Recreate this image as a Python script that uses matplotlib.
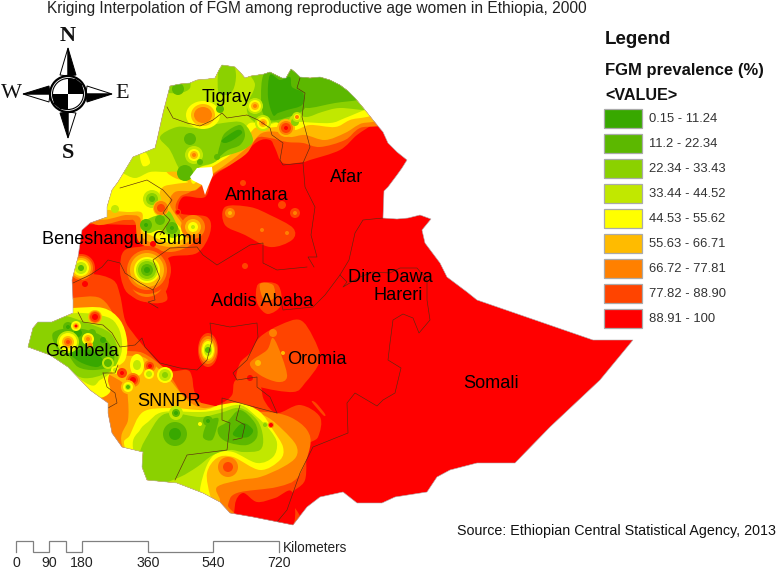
"""Kriging map of FGM prevalence in Ethiopia, 2000 (traced in image pixel coordinates)."""

import matplotlib
matplotlib.use("Agg")
import matplotlib.pyplot as plt
from matplotlib.patches import Circle, Ellipse, PathPatch, Polygon, Rectangle
from matplotlib.path import Path

plt.rcParams["font.family"] = ["Liberation Sans", "DejaVu Sans"]

# ---------------------------------------------------------
# Legend classes
# ---------------------------------------------------------
CLASS_LABELS = ["0.15 - 11.24", "11.2 - 22.34", "22.34 - 33.43", "33.44 - 44.52", "44.53 - 55.62",
                "55.63 - 66.71", "66.72 - 77.81", "77.82 - 88.90", "88.91 - 100"]
CLASS_COLORS = ["#38A800", "#5CB800", "#8BD100", "#C1E800", "#FFFF00",
                "#FFBB00", "#FF8000", "#FF4400", "#FF0000"]
DARK, GREEN, LIGHT, LIME, YELLOW, AMBER, ORANGE, DEEP, RED = range(9)

SCALE_KM = [0, 45, 90, 135, 180, 360, 540, 720]
SCALE_LABELS = [0, 90, 180, 360, 540, 720]

# ---------------------------------------------------------
# Geography
# ---------------------------------------------------------
COUNTRY = [(170, 86), (180, 84), (190, 83), (197, 80), (208, 79), (215, 78), (219, 70), (222, 65), (229, 66), (235, 67),
           (240, 72), (245, 78), (251, 76), (258, 75), (264, 74), (270, 72), (276, 75), (282, 78), (286, 78), (291, 69),
           (296, 73), (300, 77), (310, 78), (320, 77), (330, 80), (340, 85), (348, 91), (355, 98), (365, 110), (373, 120),
           (383, 132), (388, 143), (397, 152), (407, 160), (402, 168), (397, 175), (388, 187), (384, 191), (383, 218),
           (397, 219), (408, 218), (420, 215), (431, 219), (422, 230), (425, 243), (440, 263), (447, 277), (467, 292),
           (477, 300), (593, 340), (633, 340), (600, 380), (550, 427), (515, 463), (477, 463), (450, 470), (437, 477),
           (427, 492), (395, 497), (382, 503), (357, 503), (343, 492), (320, 497), (307, 507), (293, 525), (253, 517),
           (230, 513), (220, 502), (203, 493), (177, 483), (147, 480), (142, 467), (143, 452), (122, 447), (112, 433),
           (108, 413), (108, 403), (90, 390), (68, 367), (50, 355), (28, 347), (33, 328), (38, 322), (52, 322), (73, 313),
           (73, 300), (72, 280), (78, 257), (82, 230), (90, 223), (107, 217), (107, 207), (112, 190), (118, 182),
           (133, 157), (155, 148), (157, 140), (163, 113)]
LAKE_TANA = [(190, 177), (197, 168), (212, 167), (213, 175), (208, 187), (205, 195), (202, 185), (192, 180)]

DEEP_NORTH = [(385, 115), (375, 123), (357, 135), (340, 150), (310, 160), (303, 162), (283, 163), (275, 148), (270, 140),
              (257, 142), (233, 163), (213, 177), (205, 197), (183, 197), (180, 213), (207, 217), (210, 233), (197, 253),
              (170, 257), (163, 270), (163, 283), (167, 300), (150, 303), (130, 295), (123, 285), (120, 268), (125, 250),
              (150, 245), (152, 235), (150, 225), (130, 225), (100, 224), (88, 224), (60, 220), (60, 50), (400, 50)]
DEEP_SW = [(65, 280), (90, 274), (113, 280), (120, 295), (125, 320), (133, 333), (147, 350), (167, 370), (187, 370),
           (192, 377), (195, 393), (207, 408), (222, 403), (232, 395), (236, 380), (258, 380), (264, 400), (277, 413),
           (300, 405), (320, 417), (318, 437), (307, 447), (305, 480), (290, 497), (290, 535), (100, 535), (30, 400),
           (20, 340), (60, 300)]
DEEP_OROMIA = [(260, 337), (280, 325), (300, 320), (313, 337), (320, 360), (305, 383), (293, 392), (260, 387), (253, 380),
               (237, 380), (240, 363), (250, 353)]
DEEP_AMHARA = [(225, 207), (250, 207), (270, 215), (293, 228), (292, 240), (270, 247), (245, 235), (225, 225)]
DEEP_ADDIS = [(260, 283), (278, 285), (281, 305), (268, 314), (258, 305), (256, 292)]
DEEP_STREAK = [(312, 402), (316, 403), (325, 414), (323, 415)]
RED_SOUTH = [(235, 505), (243, 493), (257, 502), (275, 498), (292, 492), (290, 530), (240, 530)]

ORANGE_NORTH = [(390, 118), (360, 128), (345, 140), (320, 147), (303, 143), (287, 142), (270, 138), (257, 138), (247, 153),
                (230, 165), (215, 173), (205, 182), (190, 180), (190, 50), (390, 50)]
ORANGE_WEST = [(95, 150), (165, 165), (205, 180), (190, 192), (180, 197), (176, 210), (190, 230), (193, 243), (170, 252),
               (140, 243), (135, 222), (125, 220), (90, 220)]
ORANGE_SW = [(60, 302), (73, 298), (100, 298), (115, 318), (118, 340), (125, 350), (143, 353), (163, 367), (173, 380),
             (187, 398), (223, 408), (235, 412), (267, 412), (290, 417), (307, 430), (310, 447), (298, 477), (277, 487),
             (237, 493), (228, 505), (228, 522), (100, 520), (20, 400), (20, 340)]
ORANGE_OROMIA = [(273, 338), (282, 357), (287, 377), (278, 382), (260, 375), (250, 363), (267, 350)]
ORANGE_ADDIS = [(260, 284), (273, 285), (274, 298), (264, 300)]

AMBER_NORTH = [(385, 113), (360, 124), (345, 133), (325, 140), (305, 135), (290, 137), (278, 132), (262, 133), (250, 145),
               (232, 160), (215, 172), (205, 178), (190, 178), (190, 50), (385, 50)]
AMBER_WEST = [(100, 150), (165, 165), (190, 178), (205, 178), (195, 190), (175, 192), (170, 205), (183, 225), (190, 240),
              (170, 247), (143, 238), (140, 218), (127, 215), (95, 215)]
AMBER_SW = [(115, 345), (123, 355), (143, 357), (160, 370), (170, 380), (187, 400), (203, 408), (223, 405), (243, 408),
            (267, 417), (283, 430), (296, 445), (296, 457), (283, 467), (260, 477), (240, 480), (217, 487), (220, 500),
            (218, 508), (205, 520), (150, 500), (122, 445), (128, 420), (128, 400), (125, 385), (110, 375), (100, 370),
            (105, 355)]

YELLOW_NORTH = [(380, 108), (350, 120), (335, 127), (310, 125), (295, 130), (280, 127), (265, 128), (255, 128), (245, 140),
                (230, 155), (215, 165), (205, 170), (190, 176), (190, 50), (380, 50)]
YELLOW_WEST = [(105, 145), (155, 148), (165, 170), (175, 178), (188, 182), (175, 184), (163, 187), (160, 197), (170, 217),
               (180, 227), (185, 237), (170, 243), (150, 235), (142, 230), (142, 213), (127, 212), (110, 210), (100, 205)]
YELLOW_SOUTH = [(125, 448), (130, 435), (143, 412), (170, 408), (203, 410), (220, 405), (240, 403), (260, 412), (273, 430),
                (283, 447), (280, 460), (260, 470), (233, 457), (217, 458), (207, 473), (210, 495), (215, 505), (200, 515),
                (150, 500)]
YELLOW_GAMBELA = [(50, 310), (73, 308), (103, 308), (120, 320), (127, 340), (125, 360), (112, 370), (108, 380), (110, 392),
                  (98, 398), (80, 390), (30, 360), (20, 330)]

LIME_NORTH = [(385, 105), (370, 108), (345, 118), (330, 123), (300, 122), (280, 122), (265, 125), (250, 123), (240, 135),
              (225, 150), (213, 163), (198, 168), (190, 178), (177, 172), (165, 172), (150, 172), (135, 178), (120, 172),
              (100, 165), (100, 50), (385, 50)]
LIME_SOUTH = [(133, 448), (140, 430), (148, 422), (163, 412), (200, 412), (217, 410), (240, 405), (257, 417), (270, 430),
              (277, 443), (273, 457), (257, 463), (233, 452), (217, 453), (207, 465), (200, 490), (205, 500), (150, 500)]
LIME_GAMBELA = [(50, 320), (77, 313), (107, 317), (118, 327), (122, 343), (120, 357), (110, 373), (100, 380), (90, 385),
                (60, 365), (20, 340)]
YELLOW_PATCH = [(140, 155), (146, 153), (150, 163), (143, 166)]

LIGHT_TOP = [(218, 90), (220, 62), (232, 62), (236, 75), (233, 90), (225, 95)]
LIGHT_NW = [(160, 137), (177, 127), (197, 128), (223, 123), (243, 123), (253, 140), (243, 150), (223, 157), (213, 163),
            (200, 167), (190, 177), (180, 170), (170, 150)]
LIGHT_CORNER = [(165, 85), (187, 78), (190, 88), (180, 93), (165, 92)]
LIGHT_EAST = [(372, 110), (340, 108), (322, 112), (307, 117), (293, 115), (285, 125), (275, 122), (262, 125), (250, 118),
              (247, 105), (255, 85), (250, 62), (330, 60), (385, 100)]
LIGHT_SOUTH = [(140, 452), (148, 435), (160, 417), (173, 413), (200, 417), (220, 413), (240, 408), (257, 420),
               (263, 437), (260, 450), (243, 452), (230, 450), (213, 455), (197, 467), (180, 477), (157, 485), (135, 485)]
LIGHT_GAMBELA = [(20, 315), (60, 315), (87, 323), (110, 333), (118, 350), (117, 363), (107, 373), (83, 378), (60, 365),
                 (20, 350)]
LIGHT_WEST = [(142, 224), (150, 218), (165, 213), (170, 212), (177, 225), (180, 233), (172, 238), (160, 230), (150, 233),
              (143, 231)]

GREEN_EAST = [(358, 100), (335, 103), (307, 108), (302, 100), (305, 78), (330, 65), (375, 95)]
GREEN_CENTRE = [(262, 80), (270, 68), (292, 66), (310, 80), (305, 108), (285, 118), (270, 120), (262, 110)]
GREEN_NW = [(220, 145), (225, 133), (240, 125), (245, 135), (240, 145), (228, 150), (218, 157)]
GREEN_SOUTH = [(218, 428), (227, 422), (240, 410), (255, 423), (257, 437), (247, 445), (230, 443), (220, 437)]
GREEN_SOUTH_MID = [(203, 437), (208, 422), (218, 418), (217, 427), (212, 440)]
GREEN_GAMBELA = [(53, 333), (75, 328), (100, 335), (113, 350), (112, 365), (95, 370), (78, 367), (68, 355), (58, 350)]

DARK_CENTRE = [(270, 75), (280, 80), (290, 77), (292, 87), (303, 93), (302, 105), (287, 110), (278, 113), (273, 115), (268, 97)]
DARK_NW = [(222, 140), (237, 130), (242, 133), (233, 140), (225, 143)]
DARK_SOUTH = [(233, 433), (243, 423), (253, 430), (248, 437), (237, 437)]
DARK_GAMBELA = [(70, 352), (90, 350), (103, 360), (97, 367), (80, 362)]

# class and polygons, painted in this order over the red country
ZONES = [
    (DEEP, [DEEP_NORTH, DEEP_SW, DEEP_OROMIA, DEEP_AMHARA, DEEP_ADDIS, DEEP_STREAK]),
    (RED, [RED_SOUTH]),
    (ORANGE, [ORANGE_NORTH, ORANGE_WEST, ORANGE_SW, ORANGE_OROMIA, ORANGE_ADDIS]),
    (AMBER, [AMBER_NORTH, AMBER_WEST, AMBER_SW]),
    (YELLOW, [YELLOW_NORTH, YELLOW_WEST, YELLOW_SOUTH, YELLOW_GAMBELA]),
    (LIME, [LIME_NORTH, LIME_SOUTH, LIME_GAMBELA]),
    (YELLOW, [YELLOW_PATCH]),
    (LIGHT, [LIGHT_TOP, LIGHT_NW, LIGHT_CORNER, LIGHT_EAST, LIGHT_SOUTH, LIGHT_GAMBELA, LIGHT_WEST]),
    (GREEN, [GREEN_EAST, GREEN_CENTRE, GREEN_NW, GREEN_SOUTH, GREEN_SOUTH_MID, GREEN_GAMBELA]),
    (DARK, [DARK_CENTRE, DARK_NW, DARK_SOUTH, DARK_GAMBELA]),
]

# survey spots: centre and rings, outermost first (class, x radius, y radius)
OVAL_SPOTS = [
    (203, 115, [(YELLOW, 17, 14), (AMBER, 12, 11), (ORANGE, 9, 8)]),
    (137, 365, [(YELLOW, 7, 11), (LIME, 4, 5)]),
    (208, 350, [(DEEP, 10, 17), (ORANGE, 9, 14), (AMBER, 7, 11), (YELLOW, 6, 9), (LIME, 4, 6), (GREEN, 3, 3)]),
]

# round spots: centre and rings, outermost first (class, radius)
SPOTS = [
    (194, 155, [(LIME, 9), (YELLOW, 6), (AMBER, 4), (ORANGE, 2)]),
    (255, 106, [(LIME, 8), (YELLOW, 6), (AMBER, 4), (ORANGE, 2)]),
    (263, 123, [(LIME, 8), (YELLOW, 6), (AMBER, 4), (ORANGE, 2)]),
    (286, 128, [(AMBER, 9), (ORANGE, 7), (DEEP, 5), (RED, 2)]),
    (295, 122, [(LIGHT, 4)]),
    (297, 117, [(LIME, 5), (YELLOW, 3), (ORANGE, 2)]),
    (190, 139, [(GREEN, 6)]),
    (178, 89, [(GREEN, 6)]),
    (220, 109, [(GREEN, 4)]),
    (185, 173, [(GREEN, 8)]),
    (217, 157, [(GREEN, 3)]),
    (200, 162, [(GREEN, 3)]),
    (243, 183, [(DEEP, 3)]),
    (282, 205, [(DEEP, 4)]),
    (295, 213, [(DEEP, 5), (ORANGE, 2)]),
    (230, 213, [(ORANGE, 5), (AMBER, 2)]),
    (262, 230, [(ORANGE, 2)]),
    (287, 233, [(ORANGE, 2)]),
    (245, 266, [(DEEP, 3)]),
    (115, 209, [(LIME, 4)]),
    (152, 199, [(LIME, 9), (LIGHT, 6), (GREEN, 3)]),
    (161, 208, [(AMBER, 8), (ORANGE, 7), (DEEP, 4)]),
    (178, 212, [(DEEP, 3), (RED, 2)]),
    (146, 225, [(GREEN, 6), (DARK, 2)]),
    (172, 228, [(GREEN, 6), (DARK, 2)]),
    (160, 220, [(GREEN, 5)]),
    (193, 227, [(ORANGE, 12), (AMBER, 8), (YELLOW, 5), (LIME, 2)]),
    (153, 244, [(RED, 3)]),
    (147, 280, [(DEEP, 22), (ORANGE, 17)]),
    (147, 270, [(DEEP, 24), (ORANGE, 20), (AMBER, 17), (YELLOW, 13), (LIME, 11), (LIGHT, 9), (GREEN, 6), (DARK, 3)]),
    (81, 268, [(DEEP, 14), (ORANGE, 12), (AMBER, 10), (YELLOW, 8), (LIME, 6), (GREEN, 3)]),
    (85, 284, [(RED, 3)]),
    (68, 327, [(GREEN, 5), (DARK, 2)]),
    (78, 333, [(DARK, 4)]),
    (103, 340, [(DARK, 3)]),
    (92, 333, [(GREEN, 4)]),
    (68, 342, [(LIME, 11), (YELLOW, 9), (AMBER, 6), (ORANGE, 4), (DEEP, 2)]),
    (76, 326, [(YELLOW, 5), (AMBER, 3), (RED, 1.5)]),
    (88, 339, [(YELLOW, 6), (AMBER, 4), (ORANGE, 2)]),
    (90, 345, [(AMBER, 3), (ORANGE, 2)]),
    (95, 317, [(AMBER, 7), (ORANGE, 6), (DEEP, 5), (RED, 3)]),
    (108, 363, [(LIME, 6), (GREEN, 4)]),
    (115, 370, [(YELLOW, 4), (LIME, 2)]),
    (150, 366, [(ORANGE, 6), (DEEP, 4), (RED, 2)]),
    (149, 374, [(YELLOW, 5), (LIME, 3)]),
    (165, 375, [(YELLOW, 8), (LIME, 6), (LIGHT, 3)]),
    (133, 380, [(ORANGE, 7), (DEEP, 5), (RED, 3)]),
    (128, 387, [(AMBER, 7), (YELLOW, 5), (LIME, 3), (GREEN, 2)]),
    (122, 373, [(DEEP, 5), (RED, 2)]),
    (273, 333, [(ORANGE, 4)]),
    (258, 363, [(AMBER, 3)]),
    (283, 353, [(AMBER, 2)]),
    (228, 467, [(ORANGE, 10), (DEEP, 5)]),
    (176, 413, [(LIME, 7), (GREEN, 4), (DARK, 2)]),
    (175, 434, [(GREEN, 12), (DARK, 6)]),
    (208, 421, [(GREEN, 5), (DARK, 2)]),
    (200, 424, [(YELLOW, 2)]),
    (265, 425, [(LIME, 3), (LIGHT, 2)]),
    (271, 425, [(ORANGE, 3), (RED, 2)]),
    (250, 378, [(RED, 3)]),
]

BORDERS = [
    [(167, 107), (173, 118), (187, 123), (200, 126), (213, 120), (222, 113), (227, 118), (247, 115), (258, 120), (270, 128),
     (272, 135), (283, 143), (280, 160), (283, 165), (303, 163)],
    [(300, 78), (297, 88), (305, 93), (302, 117), (310, 147), (303, 163), (305, 187), (315, 207), (311, 235), (317, 257),
     (308, 257), (314, 267)],
    [(383, 218), (363, 220), (355, 233), (349, 260), (340, 275), (325, 295), (313, 307), (283, 310), (280, 297)],
    [(120, 188), (147, 180), (163, 190), (172, 200), (163, 213), (170, 220), (160, 235)],
    [(73, 283), (90, 275), (102, 267), (108, 260), (120, 263), (125, 273), (140, 283), (153, 290), (160, 278), (153, 260),
     (170, 248), (197, 247), (203, 255), (217, 265), (250, 245), (263, 243), (263, 263), (277, 270), (307, 267)],
    [(153, 290), (155, 300), (148, 302), (158, 308)],
    [(340, 275), (347, 282), (343, 287), (360, 277), (373, 272), (390, 273), (400, 268), (417, 268), (427, 280), (427, 300),
     (430, 320), (419, 333), (413, 318), (403, 314), (393, 320), (390, 343), (388, 360), (401, 368), (395, 393), (383, 400),
     (377, 406), (355, 393), (347, 403), (348, 433), (313, 447), (300, 473), (287, 510), (277, 522)],
    [(78, 312), (83, 322), (103, 325), (112, 333), (120, 347), (135, 345), (142, 338), (145, 347), (160, 363), (180, 368),
     (197, 370), (207, 360), (212, 340), (210, 323), (230, 327), (257, 323), (258, 337), (247, 360), (233, 373), (237, 380),
     (257, 377), (257, 387), (270, 397), (277, 413)],
    [(103, 373), (107, 387), (115, 393), (117, 403), (108, 408)],
    [(103, 373), (115, 373), (118, 365)],
    [(277, 413), (247, 405), (222, 398), (222, 420), (230, 423), (227, 450), (187, 455), (175, 480)],
    [(240, 405), (236, 420), (245, 425), (242, 438), (233, 440)],
]

# Text labels on the map
REGION_NAMES = ["Tigray", "Amhara", "Afar", "Beneshangul Gumu", "Addis Ababa", "Dire Dawa", "Hareri", "Oromia", "Gambela",
                "SNNPR", "Somali"]
REGION_X = [227, 257, 347, 122, 262, 390, 398, 317, 82, 169, 491]
REGION_Y = [97, 196, 177, 239, 301, 277, 296, 360, 352, 402, 384]

# compass arms: tip, and the two base corners of a half arm
COMPASS_BLACK = [[(68, 48), (68, 76), (76, 75)], [(112, 94), (86, 94), (87, 102)], [(68, 138), (68, 112), (60, 113)],
                 [(23, 94), (50, 94), (49, 86)]]
COMPASS_WHITE = [[(68, 48), (68, 76), (60, 75)], [(112, 94), (86, 94), (87, 86)], [(68, 138), (68, 112), (76, 113)],
                 [(23, 94), (50, 94), (49, 102)]]
COMPASS_QUADRANTS = [[(68, 94), (68, 78), (76, 79), (82, 84), (84, 94)], [(68, 94), (68, 110), (60, 109), (54, 104), (52, 94)]]


# ---------------------------------------------------------
# Helpers
# ---------------------------------------------------------
def smooth_path(points):
    # closed Catmull-Rom curve through the traced points
    n = len(points)
    verts = [points[0]]
    codes = [Path.MOVETO]
    for i in range(n):
        p0, p1, p2, p3 = points[i - 1], points[i], points[(i + 1) % n], points[(i + 2) % n]
        c1 = (p1[0] + (p2[0] - p0[0]) / 6, p1[1] + (p2[1] - p0[1]) / 6)
        c2 = (p2[0] - (p3[0] - p1[0]) / 6, p2[1] - (p3[1] - p1[1]) / 6)
        verts += [c1, c2, p2]
        codes += [Path.CURVE4, Path.CURVE4, Path.CURVE4]
    return Path(verts, codes)


def draw_map(ax):
    country = Polygon(COUNTRY, closed=True, facecolor=CLASS_COLORS[RED], edgecolor="none", zorder=1)
    ax.add_patch(country)

    for cls, polygons in ZONES:
        for points in polygons:
            patch = PathPatch(smooth_path(points), facecolor=CLASS_COLORS[cls], edgecolor="none", zorder=2)
            ax.add_patch(patch)
            patch.set_clip_path(country)

    for x, y, rings in OVAL_SPOTS:
        for cls, rx, ry in rings:
            patch = Ellipse((x, y), 2 * rx, 2 * ry, facecolor=CLASS_COLORS[cls], edgecolor="none", zorder=3)
            ax.add_patch(patch)
            patch.set_clip_path(country)

    for x, y, rings in SPOTS:
        for cls, radius in rings:
            patch = Circle((x, y), radius, facecolor=CLASS_COLORS[cls], edgecolor="none", zorder=3)
            ax.add_patch(patch)
            patch.set_clip_path(country)

    ax.add_patch(Polygon(LAKE_TANA, closed=True, facecolor="white", edgecolor="none", zorder=4))

    for line in BORDERS:
        xs, ys = zip(*line)
        border, = ax.plot(xs, ys, color="#5a2a10", lw=0.45, zorder=5)
        border.set_clip_path(country)

    ax.add_patch(Polygon(COUNTRY, closed=True, fill=False, edgecolor="#b0b0b0", lw=0.4, zorder=5))

    for name, x, y in zip(REGION_NAMES, REGION_X, REGION_Y):
        ax.text(x, y, name, fontsize=13.1, ha="center", va="center", color="black", zorder=6)


def draw_compass(ax):
    for points in COMPASS_WHITE:
        ax.add_patch(Polygon(points, closed=True, facecolor="white", edgecolor="black", lw=0.7, zorder=3))
    for points in COMPASS_BLACK:
        ax.add_patch(Polygon(points, closed=True, facecolor="black", edgecolor="black", lw=0.7, zorder=3))
    ax.add_patch(Circle((68, 94), 18, facecolor="white", edgecolor="black", lw=1.6, zorder=4))
    ax.add_patch(Circle((68, 94), 15.5, facecolor="white", edgecolor="black", lw=0.8, zorder=4))
    for points in COMPASS_QUADRANTS:
        ax.add_patch(Polygon(points, closed=True, facecolor="black", edgecolor="none", zorder=5))
    for letter, x, y in [("N", 68, 36), ("W", 11, 93), ("E", 122, 93), ("S", 68, 153)]:
        ax.text(x, y, letter, fontsize=16, family="Liberation Serif", fontweight="bold" if letter in "NS" else "normal",
                ha="center", va="center", color="#111111")


def draw_legend(ax):
    ax.text(605, 39, "Legend", fontsize=13.5, fontweight="bold", va="center", color="#111111")
    ax.text(605, 70, "FGM prevalence (%)", fontsize=12, fontweight="bold", va="center", color="#111111")
    ax.text(605, 95, "<VALUE>", fontsize=11.6, fontweight="bold", va="center", color="#111111")
    for i, (label, color) in enumerate(zip(CLASS_LABELS, CLASS_COLORS)):
        top = 108.5 + i * 25.1
        ax.add_patch(Rectangle((604.5, top), 37.5, 19, facecolor=color, edgecolor="#aaaaaa", lw=0.9))
        ax.text(649, top + 10, label, fontsize=9.4, va="center", color="#333333")


def draw_scale(ax):
    x0, px_per_km = 16.5, 0.3646
    top, bottom = 541, 552
    xs = [x0 + km * px_per_km for km in SCALE_KM]
    line_x, line_y = [xs[0]], [bottom]
    for i in range(len(xs) - 1):
        level = top if i % 2 == 0 else bottom
        line_x += [xs[i], xs[i + 1], xs[i + 1]]
        line_y += [level, level, bottom if i % 2 == 0 else top]
    ax.plot(line_x, line_y, color="#808080", lw=0.9, solid_joinstyle="miter")
    for km in SCALE_LABELS:
        ax.text(x0 + km * px_per_km, 563, str(km), fontsize=10.2, ha="center", va="center", color="#222222")
    ax.text(283, 548, "Kilometers", fontsize=9.8, va="center", color="#222222")


# ---------------------------------------------------------
# MAIN
# ---------------------------------------------------------
def main():
    fig = plt.figure(figsize=(7.78, 5.70), dpi=100)
    ax = fig.add_axes([0, 0, 1, 1])
    ax.set_xlim(0, 778)
    ax.set_ylim(570, 0)
    ax.axis("off")

    ax.text(47, 8, "Kriging Interpolation of FGM among reproductive age women in Ethiopia, 2000", fontsize=11.2,
            va="center", color="#222222")
    ax.text(457, 531, "Source: Ethiopian Central Statistical Agency, 2013", fontsize=10.3, va="center", color="#111111")

    draw_map(ax)
    draw_compass(ax)
    draw_legend(ax)
    draw_scale(ax)

    fig.savefig("out.png", dpi=100)
    plt.close(fig)


if __name__ == "__main__":
    main()
